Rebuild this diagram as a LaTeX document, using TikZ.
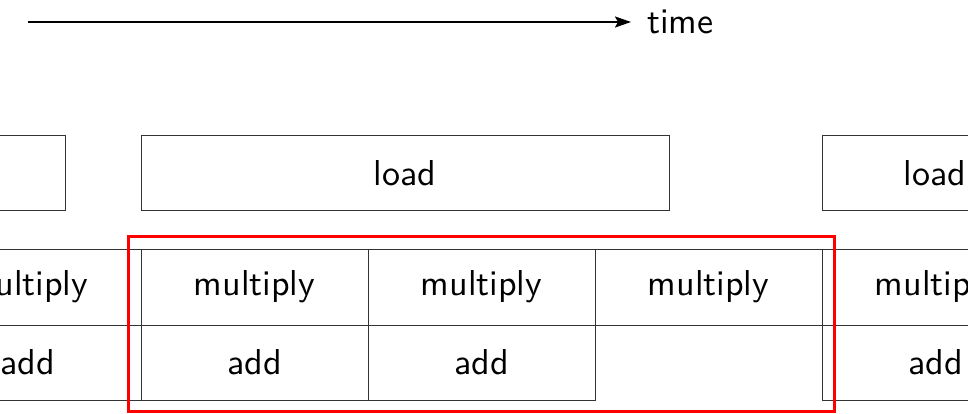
\documentclass[tikz,border=0pt]{standalone}
\usepackage{fontspec}
\newfontfamily\diagramsans{lmsans10-regular}[Extension=.otf]
\usetikzlibrary{arrows.meta}
\tikzset{
  label font/.style={font=\fontsize{36}{40}\selectfont\diagramsans},
  cell/.style={draw=black!80, line width=1pt, inner sep=0pt, label font,
    minimum width=227pt},
  loadbox/.style={cell, minimum height=74pt},
  mulbox/.style={cell, minimum height=76pt},
  addbox/.style={cell, minimum height=75pt},
  redframe/.style={draw=red, line width=3pt, inner sep=0pt},
  timearrow/.style={line width=2pt, -{Stealth[length=16pt,width=11pt,inset=3pt]}}
}
\begin{document}
\begin{tikzpicture}[x=1pt, y=-1pt]
  \path[use as bounding box] (0,0) rectangle (968,414);
  \clip (0,0) rectangle (968,414);

  % time axis
  \coordinate (tstart) at (28,22);
  \coordinate (tend) at (631,22);
  \node[label font, inner sep=0pt, anchor=west] (time) at (647,22) {time};
  \draw[timearrow] (tstart) -- (tend);

  % load stage
  \node[loadbox, minimum width=265pt] (load0) at (-67.5,173) {};
  \node[loadbox, minimum width=528pt] (load1) at (405,173) {load};
  \node[loadbox, minimum width=226pt] (load2) at (935,173) {load};

  % multiply stage
  \node[mulbox] (mul0) at (27.5,287) {multiply};
  \node[mulbox] (mul1) at (254.5,287) {multiply};
  \node[mulbox] (mul2) at (481.5,287) {multiply};
  \node[mulbox] (mul3) at (708.5,287) {multiply};
  \node[mulbox] (mul4) at (935.5,287) {multiply};

  % add stage
  \node[addbox] (add0) at (27.5,362.5) {add};
  \node[addbox] (add1) at (254.5,362.5) {add};
  \node[addbox] (add2) at (481.5,362.5) {add};
  \node[addbox] (add3) at (935.5,362.5) {add};

  % highlighted iteration
  \node[redframe, minimum width=706pt, minimum height=175pt] (frame) at (481,323.5) {};
\end{tikzpicture}
\end{document}
